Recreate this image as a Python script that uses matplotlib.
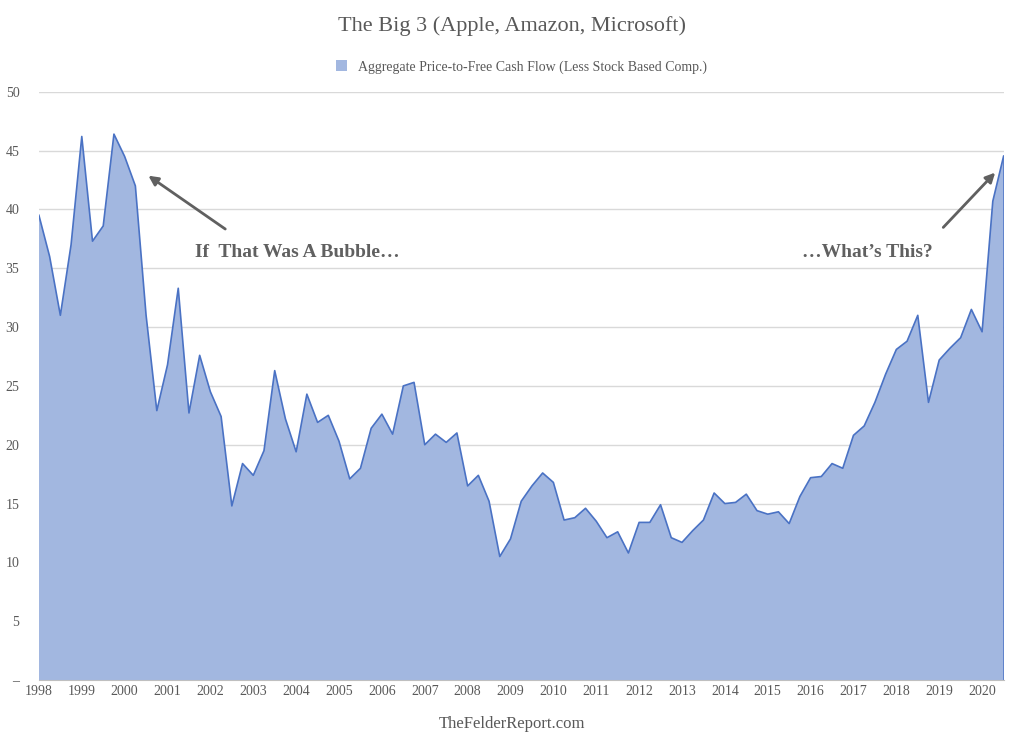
import numpy as np
import matplotlib.pyplot as plt

# quarterly values, 1998 Q1 .. 2020 Q3
START_YEAR = 1998
VALUES = [39.5, 36.0, 31.0, 37.0, 46.2, 37.3, 38.6, 46.4, 44.5, 42.0,
          31.0, 22.9, 26.8, 33.3, 22.7, 27.6, 24.5, 22.4, 14.8, 18.4,
          17.4, 19.5, 26.3, 22.2, 19.4, 24.3, 21.9, 22.5, 20.3, 17.1,
          18.0, 21.4, 22.6, 20.9, 25.0, 25.3, 20.0, 20.9, 20.2, 21.0,
          16.5, 17.4, 15.2, 10.5, 12.0, 15.2, 16.5, 17.6, 16.8, 13.6,
          13.8, 14.6, 13.5, 12.1, 12.6, 10.8, 13.4, 13.4, 14.9, 12.1,
          11.7, 12.7, 13.6, 15.9, 15.0, 15.1, 15.8, 14.4, 14.1, 14.3,
          13.3, 15.6, 17.2, 17.3, 18.4, 18.0, 20.8, 21.6, 23.6, 26.0,
          28.1, 28.8, 31.0, 23.6, 27.2, 28.2, 29.1, 31.5, 29.6, 40.7, 44.5]
YEARS = list(range(1998, 2021))
Y_TICKS = [0, 5, 10, 15, 20, 25, 30, 35, 40, 45, 50]
Y_LABELS = ["–"] + [str(v) for v in Y_TICKS[1:]]

plt.rcParams['font.family'] = ['Liberation Serif', 'DejaVu Serif']
x = START_YEAR + np.arange(len(VALUES)) * 0.25

fig = plt.figure(figsize=(10.24, 7.4), dpi=100)
ax = fig.add_axes([0.038, 0.081, 0.942, 0.795])
ax.fill_between(x, VALUES, color='#a2b7e0', edgecolor='none',
                label='Aggregate Price-to-Free Cash Flow (Less Stock Based Comp.)')
ax.plot(x, VALUES, color='#4a72c4', lw=1.2)
ax.plot([x[-1], x[-1]], [0, VALUES[-1]], color='#4a72c4', lw=1.2)

ax.set_xlim(x[0], x[-1])
ax.set_ylim(0, 50)
ax.set_yticks(Y_TICKS)
ax.set_yticklabels(Y_LABELS)
ax.set_xticks(YEARS)
ax.grid(axis='y', color='#d9d9d9', lw=1)
ax.set_axisbelow(True)
for s in ax.spines.values():
    s.set_visible(False)
ax.spines['bottom'].set_visible(True)
ax.spines['bottom'].set_color('#bfbfbf')
ax.tick_params(axis='both', length=0, labelsize=10, colors='#595959')
ax.tick_params(axis='y', pad=14)

fig.text(0.5, 0.965, 'The Big 3 (Apple, Amazon, Microsoft)', ha='center', va='center',
         fontsize=16, color='#595959')
ax.legend(loc='upper center', bbox_to_anchor=(0.5, 1.075), frameon=False,
          fontsize=10, labelcolor='#595959', handlelength=0.8, handleheight=0.8)
fig.text(0.5, 0.022, 'TheFelderReport.com', ha='center', va='center',
         fontsize=12, color='#595959')

ax.annotate('', xy=(2000.5, 43), xytext=(2002.4, 38.2),
            arrowprops=dict(arrowstyle='-|>', color='#606060', lw=2, mutation_scale=14))
ax.text(2001.65, 36.3, 'If  That Was A Bubble…', fontsize=14, fontweight='bold',
        color='#606060', va='center')
ax.annotate('', xy=(2020.35, 43.3), xytext=(2019.05, 38.3),
            arrowprops=dict(arrowstyle='-|>', color='#606060', lw=2, mutation_scale=14))
ax.text(2018.85, 36.3, '…What’s This?', fontsize=14, fontweight='bold',
        color='#606060', va='center', ha='right')

fig.savefig('out.png', dpi=100)
